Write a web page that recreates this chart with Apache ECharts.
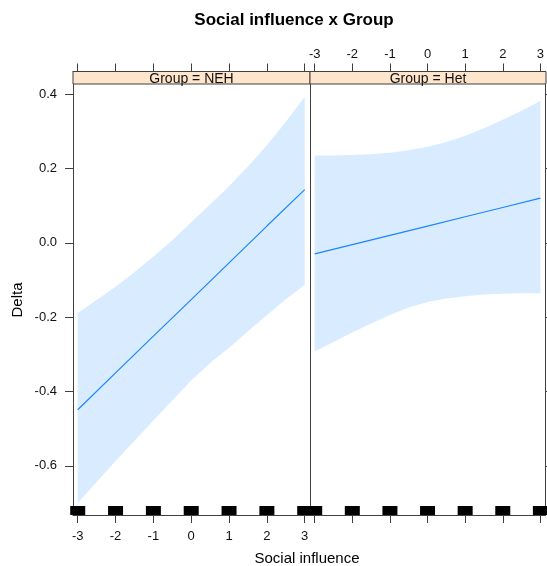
<!DOCTYPE html>
<html><head><meta charset="utf-8">
<script src="https://cdn.jsdelivr.net/npm/echarts@6/dist/echarts.min.js"></script>
<style>html,body{margin:0;padding:0;background:#fff}#c{width:547px;height:566px}</style>
</head><body><div id="c"></div>
<script>
const titleText = 'Social influence x Group';
const panelNames = ['Group = NEH', 'Group = Het'];
const xLabel = 'Social influence';
const yLabel = 'Delta';
const xTicks = [-3, -2, -1, 0, 1, 2, 3];
const yTicks = [-0.6, -0.4, -0.2, 0, 0.2, 0.4];

// fitted line values at xTicks
const nehLine = [-0.449, -0.350, -0.251, -0.153, -0.054, 0.045, 0.143];
const hetLine = [-0.030, -0.005, 0.020, 0.045, 0.070, 0.095, 0.120];

// confidence band edges at bandX
const bandX = [-3, -2.5, -2, -1.5, -1, -0.5, 0, 0.5, 1, 1.5, 2, 2.5, 3];
const nehUpper = [-0.189, -0.154, -0.118, -0.079, -0.037, 0.007, 0.055, 0.103, 0.152, 0.205, 0.262, 0.325, 0.393];
const nehLower = [-0.700, -0.643, -0.587, -0.532, -0.478, -0.424, -0.370, -0.323, -0.282, -0.238, -0.195, -0.152, -0.113];
const hetUpper = [0.235, 0.235, 0.236, 0.238, 0.242, 0.249, 0.258, 0.271, 0.288, 0.308, 0.331, 0.355, 0.381];
const hetLower = [-0.292, -0.267, -0.241, -0.217, -0.194, -0.174, -0.159, -0.150, -0.144, -0.139, -0.137, -0.136, -0.136];

// rug positions
const rugX = [-3, -2, -1, 0, 1, 2, 3];

const X_MIN = -3.125, X_MAX = 3.14, Y_MIN = -0.732, Y_MAX = 0.427;
const FONT = 'Liberation Sans, Arial, sans-serif';
const AX = '#404040';

const chart = echarts.init(document.getElementById('c'), null, {renderer: 'canvas'});

function xAxis(grid, pos, showLabels) {
  return {
    type: 'value', gridIndex: grid, position: pos, min: X_MIN, max: X_MAX,
    offset: pos === 'top' ? 12.5 : 0,
    axisLine: {show: true, onZero: false, lineStyle: {color: AX, width: 1}},
    axisTick: {show: true, length: 8, customValues: xTicks, lineStyle: {color: AX}},
    axisLabel: {show: showLabels, customValues: xTicks, margin: pos === 'top' ? 11 : 14.5,
      fontSize: 13, fontFamily: FONT, color: '#111', formatter: v => String(v)},
    splitLine: {show: false}
  };
}

function band(xi, yi, upper, lower) {
  return {
    type: 'custom', xAxisIndex: xi, yAxisIndex: yi, silent: true, z: 1,
    data: [[0, 0]],
    renderItem: (params, api) => {
      const pts = [];
      bandX.forEach((x, i) => pts.push(api.coord([x, upper[i]])));
      for (let i = bandX.length - 1; i >= 0; i--) pts.push(api.coord([bandX[i], lower[i]]));
      return {type: 'polygon', shape: {points: pts}, style: {fill: '#d9ebff', stroke: null}};
    }
  };
}

function line(xi, yi, vals) {
  return {
    type: 'line', xAxisIndex: xi, yAxisIndex: yi, silent: true, z: 3,
    data: xTicks.map((x, i) => [x, vals[i]]),
    symbol: 'none', lineStyle: {color: '#1a86ff', width: 1.2}
  };
}

function rug(xi, yi) {
  return {
    type: 'scatter', xAxisIndex: xi, yAxisIndex: yi, silent: true, clip: true, z: 4,
    data: rugX.map(x => [x, Y_MIN]),
    symbol: 'rect', symbolSize: [15, 9], symbolOffset: [0, -4.5],
    itemStyle: {color: '#000', opacity: 1}
  };
}

const stripTop = 71.5, stripH = 12.5;
const panels = [{left: 73, width: 237}, {left: 310, width: 236}];

const graphics = [
  {type: 'text', x: 294, y: 20, z: 10,
   style: {text: titleText, font: 'bold 17px ' + FONT, fill: '#000', textAlign: 'center', textVerticalAlign: 'middle', align: 'center', verticalAlign: 'middle'}},
  {type: 'text', x: 307, y: 559, z: 10,
   style: {text: xLabel, font: '15px ' + FONT, fill: '#000', textAlign: 'center', textVerticalAlign: 'middle', align: 'center', verticalAlign: 'middle'}},
  {type: 'text', x: 18, y: 300, rotation: Math.PI / 2, z: 10,
   style: {text: yLabel, font: '15px ' + FONT, fill: '#000', textAlign: 'center', textVerticalAlign: 'middle', align: 'center', verticalAlign: 'middle'}}
];
panels.forEach((p, i) => {
  graphics.push({type: 'rect', z: 5, shape: {x: p.left, y: stripTop, width: p.width, height: stripH},
    style: {fill: '#ffe5cc', stroke: AX, lineWidth: 1}});
  graphics.push({type: 'text', z: 6, x: p.left + p.width / 2, y: stripTop + stripH / 2 + 1,
    style: {text: panelNames[i], font: '14px ' + FONT, fill: '#111', textAlign: 'center', textVerticalAlign: 'middle', align: 'center', verticalAlign: 'middle'}});
});

const option = {
  animation: false,
  backgroundColor: '#fff',
  grid: [
    {left: 73, top: 84, width: 237, height: 431, containLabel: false},
    {left: 310, top: 84, width: 236, height: 431, containLabel: false}
  ],
  xAxis: [
    xAxis(0, 'bottom', true),
    xAxis(0, 'top', false),
    xAxis(1, 'bottom', false),
    xAxis(1, 'top', true)
  ],
  yAxis: [
    {type: 'value', gridIndex: 0, position: 'left', min: Y_MIN, max: Y_MAX,
     axisLine: {show: true, onZero: false, lineStyle: {color: AX}},
     axisTick: {show: true, length: 8, customValues: yTicks, lineStyle: {color: AX}},
     axisLabel: {show: true, customValues: yTicks, margin: 16, fontSize: 13, fontFamily: FONT, color: '#111',
       formatter: v => v.toFixed(1)},
     splitLine: {show: false}},
    {type: 'value', gridIndex: 1, position: 'left', min: Y_MIN, max: Y_MAX,
     axisLine: {show: true, onZero: false, lineStyle: {color: AX}},
     axisTick: {show: false}, axisLabel: {show: false}, splitLine: {show: false}},
    {type: 'value', gridIndex: 1, position: 'right', min: Y_MIN, max: Y_MAX,
     axisLine: {show: true, onZero: false, lineStyle: {color: AX}},
     axisTick: {show: true, length: 6, customValues: yTicks, lineStyle: {color: AX}},
     axisLabel: {show: false}, splitLine: {show: false}}
  ],
  series: [
    band(0, 0, nehUpper, nehLower),
    band(2, 1, hetUpper, hetLower),
    line(0, 0, nehLine),
    line(2, 1, hetLine),
    rug(0, 0),
    rug(2, 1)
  ],
  graphic: graphics
};
chart.setOption(option);
</script>
</body></html>
